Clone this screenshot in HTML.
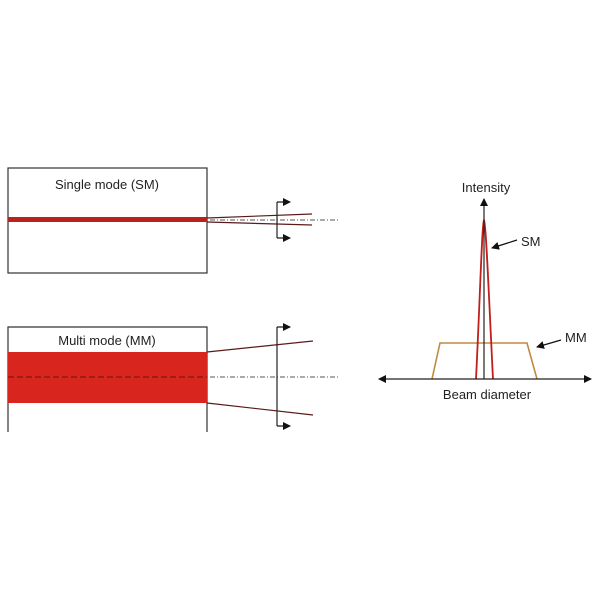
<!DOCTYPE html>
<html><head><style>body{margin:0;background:#fff}svg{display:block}</style></head><body>
<svg width="600" height="600" viewBox="0 0 600 600" font-family="Liberation Sans, sans-serif">
<defs><marker id="a" markerWidth="8" markerHeight="8" refX="7" refY="4" orient="auto" markerUnits="userSpaceOnUse"><path d="M0,0L8,4L0,8z" fill="#111"/></marker></defs>
<!-- top box -->
<rect x="8" y="168" width="199" height="105" fill="#fff" stroke="#333" stroke-width="1.2"/>
<text x="107" y="189" font-size="13" text-anchor="middle" fill="#222">Single mode (SM)</text>
<rect x="8" y="217" width="199" height="5" fill="#b8241c"/>
<line x1="207" y1="218" x2="312" y2="214" stroke="#5a1a1a" stroke-width="1.2"/>
<line x1="207" y1="222" x2="312" y2="225" stroke="#5a1a1a" stroke-width="1.2"/>
<line x1="210" y1="220" x2="340" y2="220" stroke="#555" stroke-width="1" stroke-dasharray="5,2,1,2"/>
<path d="M277,202V238" stroke="#222" stroke-width="1.2" fill="none"/>
<line x1="277" y1="202" x2="290" y2="202" stroke="#111" stroke-width="1.2" marker-end="url(#a)"/>
<line x1="277" y1="238" x2="290" y2="238" stroke="#111" stroke-width="1.2" marker-end="url(#a)"/>
<!-- bottom box -->
<path d="M8,432V327H207V432" fill="#fff" stroke="#333" stroke-width="1.2"/>
<text x="107" y="345" font-size="13" text-anchor="middle" fill="#222">Multi mode (MM)</text>
<rect x="8" y="352" width="199" height="51" fill="#d8261e"/>
<line x1="8" y1="377" x2="207" y2="377" stroke="#6a1010" stroke-width="1" stroke-dasharray="6,3"/>
<line x1="210" y1="377" x2="340" y2="377" stroke="#555" stroke-width="1" stroke-dasharray="5,2,1,2"/>
<line x1="207" y1="352" x2="313" y2="341" stroke="#5a1a1a" stroke-width="1.2"/>
<line x1="207" y1="403" x2="313" y2="415" stroke="#5a1a1a" stroke-width="1.2"/>
<path d="M277,327V426" stroke="#222" stroke-width="1.2" fill="none"/>
<line x1="277" y1="327" x2="290" y2="327" stroke="#111" stroke-width="1.2" marker-end="url(#a)"/>
<line x1="277" y1="426" x2="290" y2="426" stroke="#111" stroke-width="1.2" marker-end="url(#a)"/>
<!-- graph -->
<path d="M432,379L440,343H527L537,379" fill="none" stroke="#c08a40" stroke-width="1.6"/>
<path d="M476,379C480,300 482,222 484,220C486,222 489,300 493,379" fill="none" stroke="#c0201c" stroke-width="1.8"/>
<line x1="484" y1="379" x2="484" y2="199" stroke="#222" stroke-width="1.2" marker-end="url(#a)"/>
<line x1="484" y1="379" x2="591" y2="379" stroke="#222" stroke-width="1.2" marker-end="url(#a)"/>
<line x1="484" y1="379" x2="379" y2="379" stroke="#222" stroke-width="1.2" marker-end="url(#a)"/>
<text x="486" y="192" font-size="13" text-anchor="middle" fill="#222">Intensity</text>
<text x="487" y="399" font-size="13" text-anchor="middle" fill="#222">Beam diameter</text>
<line x1="517" y1="240" x2="492" y2="248" stroke="#111" stroke-width="1.2" marker-end="url(#a)"/>
<text x="521" y="246" font-size="13" fill="#222">SM</text>
<line x1="561" y1="340" x2="537" y2="347" stroke="#111" stroke-width="1.2" marker-end="url(#a)"/>
<text x="565" y="342" font-size="13" fill="#222">MM</text>
</svg>
</body></html>
